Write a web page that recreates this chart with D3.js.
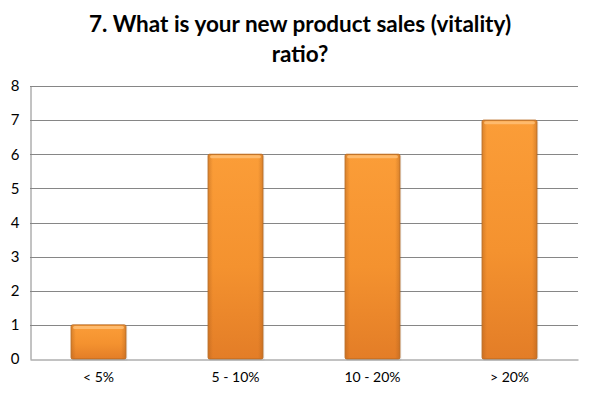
<!DOCTYPE html>
<html>
<head>
<meta charset="utf-8">
<script src="https://cdn.jsdelivr.net/npm/d3@7"></script>
<style>
  body { margin: 0; background: #fff; }
  text { font-family: Lato, "Open Sans", sans-serif; }
</style>
</head>
<body>
<div id="chart"></div>
<script>
const titleLines = ["7. What is your new product sales (vitality)", "ratio?"];
const categories = ["< 5%", "5 - 10%", "10 - 20%", "> 20%"];
const counts = [1, 6, 6, 7];
const yTicks = [0, 1, 2, 3, 4, 5, 6, 7, 8];

const width = 591, height = 397;
const margin = { top: 86, right: 13, bottom: 38, left: 30 };

const svg = d3.select("#chart").append("svg")
  .attr("width", width)
  .attr("height", height);

const defs = svg.append("defs");
const grad = defs.append("linearGradient")
  .attr("id", "barFill")
  .attr("x1", 0).attr("y1", 0).attr("x2", 0).attr("y2", 1);
grad.append("stop").attr("offset", "0%").attr("stop-color", "#fb9d38");
grad.append("stop").attr("offset", "55%").attr("stop-color", "#f4922f");
grad.append("stop").attr("offset", "100%").attr("stop-color", "#e37d27");

const side = defs.append("linearGradient")
  .attr("id", "barSide")
  .attr("x1", 0).attr("y1", 0).attr("x2", 1).attr("y2", 0);
side.append("stop").attr("offset", "0%").attr("stop-color", "#a65a1a").attr("stop-opacity", 0.35);
side.append("stop").attr("offset", "8%").attr("stop-color", "#a65a1a").attr("stop-opacity", 0);
side.append("stop").attr("offset", "92%").attr("stop-color", "#a65a1a").attr("stop-opacity", 0);
side.append("stop").attr("offset", "100%").attr("stop-color", "#a65a1a").attr("stop-opacity", 0.35);

const x = d3.scaleBand()
  .domain(categories)
  .range([margin.left, width - margin.right])
  .paddingInner(0.6)
  .paddingOuter(0.3);

const y = d3.scaleLinear()
  .domain([0, 8])
  .range([height - margin.bottom, margin.top]);

// title
svg.append("g").selectAll("text")
  .data(titleLines)
  .join("text")
  .attr("x", 300)
  .attr("y", (d, i) => 32 + i * 30)
  .attr("text-anchor", "middle")
  .attr("font-size", 22.5)
  .attr("font-weight", "bold")
  .attr("fill", "#000")
  .text(d => d);

// gridlines
svg.append("g")
  .selectAll("line")
  .data(yTicks.filter(d => d > 0))
  .join("line")
  .attr("x1", margin.left)
  .attr("x2", width - margin.right)
  .attr("y1", d => Math.round(y(d)) + 0.5)
  .attr("y2", d => Math.round(y(d)) + 0.5)
  .attr("stroke", "#868686")
  .attr("stroke-width", 1);

// y axis
const yAxis = svg.append("g")
  .attr("transform", `translate(${margin.left + 0.5},0)`)
  .call(d3.axisLeft(y).tickValues(yTicks).tickSize(0).tickPadding(11));
yAxis.select(".domain").attr("stroke", "#868686");
yAxis.selectAll("text")
  .attr("font-size", 15)
  .attr("fill", "#000")
  .style("font-family", "Lato, sans-serif");

// bars
const bars = svg.append("g").selectAll("g")
  .data(counts)
  .join("g");

bars.append("rect")
  .attr("x", (d, i) => x(categories[i]) + 1.5)
  .attr("y", d => y(d) + 1.5)
  .attr("width", x.bandwidth())
  .attr("height", d => y(0) - y(d))
  .attr("fill", "#000")
  .attr("opacity", 0.08);

bars.append("rect")
  .attr("x", (d, i) => x(categories[i]))
  .attr("y", d => y(d))
  .attr("width", x.bandwidth())
  .attr("height", d => y(0) - y(d))
  .attr("rx", 1.5)
  .attr("fill", "url(#barFill)")
  .attr("stroke", "#b8681f")
  .attr("stroke-width", 1);

bars.append("rect")
  .attr("x", (d, i) => x(categories[i]) + 0.5)
  .attr("y", d => y(d) + 0.5)
  .attr("width", x.bandwidth() - 1)
  .attr("height", d => y(0) - y(d) - 1)
  .attr("fill", "url(#barSide)");

bars.append("rect")
  .attr("x", (d, i) => x(categories[i]) + 2)
  .attr("y", d => y(d) + 1)
  .attr("width", x.bandwidth() - 4)
  .attr("height", 3)
  .attr("rx", 1.5)
  .attr("fill", "#ffc27a")
  .attr("opacity", 0.8);

// x axis
const xAxis = svg.append("g")
  .attr("transform", `translate(0,${Math.round(y(0)) + 0.5})`)
  .call(d3.axisBottom(x).tickSize(0).tickPadding(13));
xAxis.select(".domain").attr("stroke", "#868686");
xAxis.selectAll("text")
  .attr("font-size", 14)
  .attr("fill", "#000")
  .style("font-family", "Lato, sans-serif");
</script>
</body>
</html>
